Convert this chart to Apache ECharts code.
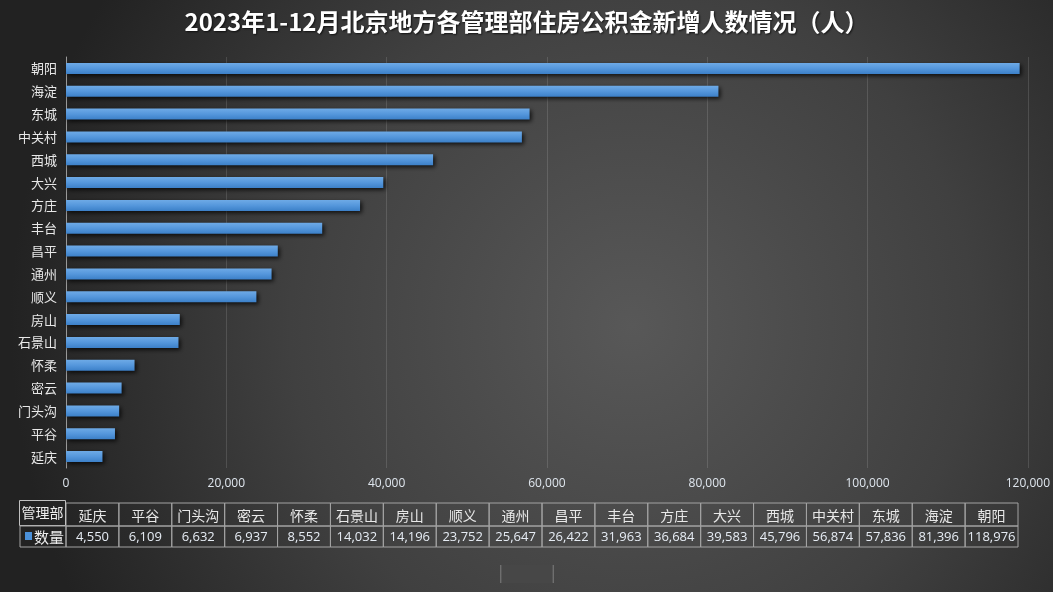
<!DOCTYPE html>
<html>
<head>
<meta charset="utf-8">
<script src="https://cdn.jsdelivr.net/npm/echarts@6/dist/echarts.min.js"></script>
<style>
html,body{margin:0;padding:0;background:#333;}
#main{width:1053px;height:592px;}
</style>
</head>
<body>
<div id="main"></div>
<script>
const titleText = '2023年1-12月北京地方各管理部住房公积金新增人数情况（人）';
const categories = ['延庆','平谷','门头沟','密云','怀柔','石景山','房山','顺义','通州','昌平','丰台','方庄','大兴','西城','中关村','东城','海淀','朝阳'];
const values = [4550,6109,6632,6937,8552,14032,14196,23752,25647,26422,31963,36684,39583,45796,56874,57836,81396,118976];
const seriesName = '数量';
const tableHeaderLabel = '管理部';
const xTicks = [0,20000,40000,60000,80000,100000,120000];

const chart = echarts.init(document.getElementById('main'), null, {renderer:'canvas'});

const fmt = v => v.toLocaleString('en-US');

// table layout
const tL = 66, tR = 1018, rowTop = 503, rowMid = 526, rowBot = 547;
const colW = (tR - tL) / categories.length;
const border = '#a3a3a3';
const graphics = [];
categories.forEach((c, i) => {
  const x = tL + i * colW;
  graphics.push({type:'rect', shape:{x:x, y:rowTop, width:colW, height:rowMid-rowTop}, style:{fill:'transparent', stroke:border, lineWidth:1}, z:10});
  graphics.push({type:'rect', shape:{x:x, y:rowMid, width:colW, height:rowBot-rowMid}, style:{fill:'transparent', stroke:border, lineWidth:1}, z:10});
  graphics.push({type:'text', x:x+colW/2, y:(rowTop+rowMid)/2+1, style:{text:c, fill:'#e8e8e8', font:'14px "Noto Sans CJK SC"', textAlign:'center', textVerticalAlign:'middle'}, z:11});
  graphics.push({type:'text', x:x+colW/2, y:(rowMid+rowBot)/2+1, style:{text:fmt(values[i]), fill:'#e6ecf4', font:'13px "Open Sans"', textAlign:'center', textVerticalAlign:'middle'}, z:11});
});
graphics.push({type:'rect', shape:{x:19.5, y:500.5, width:46, height:25}, style:{fill:'transparent', stroke:'#c0c0c0', lineWidth:1}, z:10});
graphics.push({type:'text', x:42.5, y:513, style:{text:tableHeaderLabel, fill:'#eeeeee', font:'14px "Noto Sans CJK SC"', textAlign:'center', textVerticalAlign:'middle'}, z:11});
graphics.push({type:'rect', shape:{x:20, y:rowMid, width:tL-20, height:rowBot-rowMid}, style:{fill:'transparent', stroke:border, lineWidth:1}, z:10});
graphics.push({type:'rect', shape:{x:25, y:532, width:7, height:8}, style:{fill:'#4a90d9'}, z:11});
graphics.push({type:'text', x:34, y:(rowMid+rowBot)/2+1, style:{text:seriesName, fill:'#eeeeee', font:'15px "Noto Sans CJK SC"', textAlign:'left', textVerticalAlign:'middle'}, z:11});
graphics.push({type:'rect', shape:{x:500, y:565, width:54, height:18}, style:{fill:{type:'linear',x:0,y:0,x2:1,y2:0,colorStops:[{offset:0,color:'#7a7a7a'},{offset:0.04,color:'#474747'},{offset:0.96,color:'#474747'},{offset:1,color:'#7a7a7a'}]}}, z:5});

const option = {
  backgroundColor: {
    type:'radial', x:0.6, y:0.55, r:1.05,
    colorStops:[{offset:0,color:'#585858'},{offset:0.55,color:'#404040'},{offset:1,color:'#222222'}]
  },
  animation:false,
  title:{
    text:titleText, left:'center', top:5,
    textStyle:{color:'#ffffff', fontSize:24, fontWeight:'bold', fontFamily:'"Noto Sans CJK SC"',
      textShadowColor:'rgba(0,0,0,0.7)', textShadowBlur:2, textShadowOffsetX:1, textShadowOffsetY:1}
  },
  grid:{left:66, right:25, top:57, height:411, containLabel:false},
  xAxis:{
    type:'value', min:0, max:120000, interval:20000,
    axisLine:{show:false}, axisTick:{show:false},
    splitLine:{show:true, lineStyle:{color:'rgba(255,255,255,0.13)', width:1}},
    axisLabel:{color:'#dfe6ee', fontSize:12, fontFamily:'"Open Sans"', margin:10, formatter:v=>fmt(v)}
  },
  yAxis:{
    type:'category', data:categories,
    axisLine:{show:true, lineStyle:{color:'#9a9a9a', width:1}},
    axisTick:{show:false},
    axisLabel:{color:'#e8e8e8', fontSize:13, fontFamily:'"Noto Sans CJK SC"', margin:9}
  },
  series:[{
    name:seriesName, type:'bar', data:values, barWidth:11,
    itemStyle:{
      color:{type:'linear',x:0,y:0,x2:0,y2:1,colorStops:[{offset:0,color:'#6eaae6'},{offset:0.5,color:'#5597dc'},{offset:1,color:'#3c80c8'}]},
      shadowColor:'rgba(0,0,0,0.75)', shadowBlur:4, shadowOffsetX:2, shadowOffsetY:2
    }
  }],
  graphic: graphics
};
chart.setOption(option);
</script>
</body>
</html>
